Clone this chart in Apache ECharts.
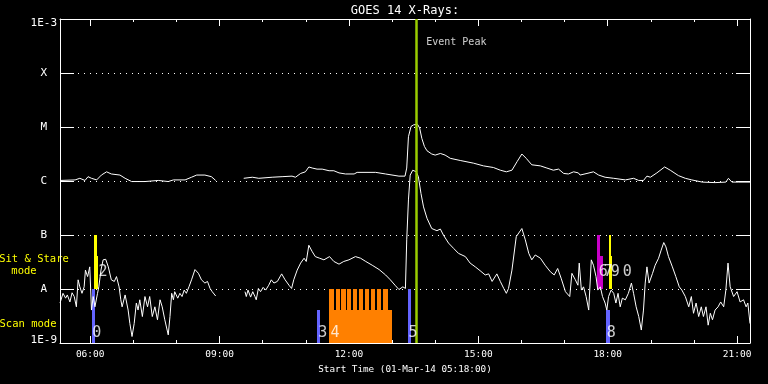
<!DOCTYPE html>
<html><head><meta charset="utf-8">
<script src="https://cdn.jsdelivr.net/npm/echarts@6/dist/echarts.min.js"></script>
<style>html,body{margin:0;padding:0;background:#000;}#c{width:768px;height:384px;}</style>
</head><body><div id="c"></div>
<script>
// Time in decimal hours (UT), flux as log10(W/m^2)
const longChannel = [[5.30,-5.99],[5.33,-5.99],[5.65,-5.98],[5.76,-5.95],[5.88,-5.99],[5.95,-5.92],[6.03,-5.95],[6.15,-5.98],[6.26,-5.89],[6.38,-5.83],[6.49,-5.87],[6.69,-5.89],[6.81,-5.95],[6.96,-6.01],[7.27,-6.01],[7.58,-5.99],[7.81,-6.01],[7.93,-5.98],[8.20,-5.98],[8.35,-5.93],[8.47,-5.89],[8.66,-5.89],[8.81,-5.92],[8.91,-5.99],[9.2,null],
[9.56,-5.95],[9.76,-5.93],[9.91,-5.95],[10.22,-5.93],[10.45,-5.92],[10.68,-5.91],[10.76,-5.93],[10.88,-5.86],[10.99,-5.83],[11.07,-5.74],[11.15,-5.76],[11.26,-5.78],[11.38,-5.78],[11.54,-5.81],[11.65,-5.81],[11.77,-5.85],[11.92,-5.87],[12.12,-5.87],[12.19,-5.84],[12.62,-5.84],[12.85,-5.87],[13.16,-5.91],[13.30,-5.91],[13.33,-5.93],[13.34,-5.76],[13.38,-5.18],[13.44,-4.99],[13.50,-4.96],[13.59,-4.95],[13.64,-5.02],[13.69,-5.21],[13.75,-5.36],[13.81,-5.44],[13.92,-5.50],[14.00,-5.52],[14.12,-5.49],[14.23,-5.52],[14.35,-5.58],[14.58,-5.62],[14.89,-5.67],[15.12,-5.72],[15.35,-5.75],[15.51,-5.80],[15.65,-5.83],[15.78,-5.80],[15.90,-5.64],[16.01,-5.50],[16.11,-5.58],[16.24,-5.70],[16.44,-5.72],[16.59,-5.76],[16.74,-5.80],[16.86,-5.78],[16.98,-5.86],[17.09,-5.87],[17.21,-5.83],[17.32,-5.85],[17.36,-5.89],[17.52,-5.86],[17.67,-5.83],[17.79,-5.89],[17.94,-5.93],[18.14,-5.95],[18.41,-5.98],[18.60,-5.95],[18.72,-5.99],[18.83,-5.99],[18.91,-5.91],[18.99,-5.93],[19.14,-5.85],[19.32,-5.74],[19.45,-5.80],[19.64,-5.90],[19.80,-5.95],[19.95,-5.98],[20.19,-6.02],[20.49,-6.03],[20.74,-6.02],[20.80,-5.95],[20.88,-6.02],[21.04,-6.02],[21.30,-6.02]];

const shortChannel = [[5.30,-8.26],[5.32,-8.26],[5.37,-8.08],[5.43,-8.17],[5.47,-8.11],[5.53,-8.24],[5.58,-8.07],[5.63,-8.14],[5.68,-8.33],[5.72,-7.83],[5.76,-7.96],[5.81,-8.08],[5.86,-7.96],[5.89,-7.65],[5.94,-7.77],[5.99,-7.59],[6.03,-8.39],[6.07,-8.14],[6.11,-8.33],[6.17,-8.08],[6.20,-7.96],[6.25,-7.65],[6.30,-7.46],[6.36,-7.45],[6.42,-7.59],[6.49,-7.83],[6.56,-7.86],[6.61,-7.77],[6.67,-7.96],[6.71,-8.20],[6.74,-8.33],[6.81,-8.11],[6.88,-8.39],[6.92,-8.64],[6.97,-8.88],[7.02,-8.64],[7.07,-8.26],[7.11,-8.39],[7.15,-8.20],[7.21,-8.51],[7.27,-8.14],[7.33,-8.33],[7.38,-8.14],[7.44,-8.51],[7.50,-8.33],[7.56,-8.57],[7.62,-8.20],[7.67,-8.33],[7.73,-8.57],[7.81,-8.85],[7.85,-8.51],[7.89,-8.08],[7.93,-8.20],[7.96,-8.05],[8.03,-8.17],[8.08,-8.08],[8.13,-8.14],[8.18,-8.02],[8.23,-8.08],[8.29,-7.96],[8.35,-7.83],[8.43,-7.64],[8.51,-7.71],[8.58,-7.83],[8.66,-7.89],[8.72,-7.86],[8.78,-7.99],[8.83,-8.05],[8.91,-8.13],[9.2,null],
[9.59,-8.05],[9.62,-8.14],[9.66,-8.02],[9.72,-8.15],[9.77,-8.05],[9.82,-8.14],[9.85,-8.20],[9.90,-7.99],[9.95,-8.05],[10.01,-7.97],[10.07,-8.02],[10.14,-7.93],[10.20,-7.83],[10.26,-7.89],[10.34,-7.86],[10.44,-7.72],[10.52,-7.83],[10.61,-7.93],[10.67,-7.99],[10.72,-7.83],[10.80,-7.65],[10.88,-7.52],[10.96,-7.43],[11.01,-7.49],[11.07,-7.19],[11.15,-7.31],[11.22,-7.40],[11.32,-7.43],[11.42,-7.46],[11.55,-7.40],[11.65,-7.49],[11.77,-7.54],[11.88,-7.49],[12.00,-7.46],[12.15,-7.40],[12.27,-7.43],[12.39,-7.49],[12.54,-7.56],[12.70,-7.64],[12.85,-7.74],[12.96,-7.83],[13.08,-7.94],[13.16,-8.01],[13.25,-7.96],[13.31,-7.99],[13.33,-7.96],[13.34,-7.09],[13.38,-6.35],[13.42,-5.89],[13.48,-5.80],[13.56,-5.83],[13.61,-5.92],[13.67,-6.23],[13.73,-6.48],[13.81,-6.69],[13.92,-6.88],[14.04,-6.92],[14.12,-6.89],[14.19,-7.00],[14.31,-7.15],[14.43,-7.25],[14.54,-7.34],[14.70,-7.40],[14.81,-7.52],[14.93,-7.59],[15.04,-7.66],[15.16,-7.74],[15.24,-7.72],[15.32,-7.86],[15.43,-7.72],[15.51,-7.86],[15.59,-7.99],[15.65,-8.08],[15.70,-7.99],[15.78,-7.65],[15.88,-7.03],[16.01,-6.88],[16.09,-7.09],[16.17,-7.34],[16.24,-7.46],[16.32,-7.37],[16.44,-7.43],[16.55,-7.56],[16.67,-7.68],[16.76,-7.74],[16.84,-7.62],[16.92,-7.80],[17.02,-8.05],[17.12,-8.14],[17.17,-7.71],[17.25,-7.83],[17.31,-7.93],[17.34,-7.52],[17.39,-8.02],[17.44,-7.96],[17.50,-8.14],[17.56,-8.39],[17.62,-7.46],[17.67,-7.56],[17.73,-7.77],[17.77,-8.02],[17.83,-7.96],[17.88,-8.14],[17.94,-8.26],[17.98,-8.39],[18.02,-8.14],[18.08,-8.02],[18.14,-8.08],[18.19,-8.26],[18.24,-8.08],[18.29,-8.33],[18.34,-8.17],[18.41,-8.20],[18.48,-8.08],[18.55,-7.89],[18.60,-8.08],[18.66,-8.33],[18.72,-8.51],[18.78,-8.76],[18.83,-8.39],[18.87,-7.89],[18.91,-7.59],[18.96,-7.89],[19.04,-7.71],[19.10,-7.56],[19.18,-7.43],[19.24,-7.28],[19.30,-7.14],[19.35,-7.22],[19.41,-7.40],[19.50,-7.59],[19.58,-7.77],[19.66,-7.96],[19.72,-8.02],[19.80,-8.14],[19.88,-8.33],[19.94,-8.14],[19.99,-8.45],[20.05,-8.26],[20.11,-8.51],[20.17,-8.33],[20.22,-8.51],[20.28,-8.33],[20.33,-8.67],[20.38,-8.45],[20.43,-8.57],[20.49,-8.39],[20.56,-8.33],[20.62,-8.24],[20.69,-8.33],[20.74,-8.02],[20.79,-7.52],[20.84,-7.96],[20.92,-8.14],[21.00,-8.05],[21.07,-8.24],[21.15,-8.20],[21.21,-8.33],[21.25,-8.26],[21.30,-8.64]];

// Observation blocks (time range in hours, level range in log10 flux)
const obsStart = [6.042, 6.098, 6.098, 11.264, 11.536, 11.536, 11.689, 11.821, 11.960, 12.092, 12.231, 12.371, 12.500, 12.640, 12.788, 13.375, 17.758, 17.758, 17.966, 18.036, 18.036];
const obsEnd   = [6.121, 6.151, 6.188, 11.327, 12.988, 11.652, 11.782, 11.921, 12.053, 12.192, 12.331, 12.463, 12.603, 12.749, 12.904, 13.444, 17.820, 17.890, 18.052, 18.082, 18.098];
const obsLow   = [-9, -8, -8, -9, -9, -8.39, -8.39, -8.39, -8.39, -8.39, -8.39, -8.39, -8.39, -8.39, -8.39, -9, -8, -8, -9, -8, -8];
const obsHigh  = [-8, -7, -7.38, -8.39, -8.39, -8, -8, -8, -8, -8, -8, -8, -8, -8, -8, -8, -7, -7.39, -8.39, -7, -7.39];
const obsMode  = ['scan','stare','stare','scan','raster','raster','raster','raster','raster','raster','raster','raster','raster','raster','raster','scan','stareB','stareB','scan','stare','stare'];

const obsLabels    = ['0','2','3','4','5','6','7','9','0','8'];
const obsLabelTime = [6.05, 6.19, 11.29, 11.57, 13.38, 17.79, 17.91, 18.07, 18.35, 17.98];
const obsLabelMode = ['scan','stare','scan','scan','scan','stare','stare','stare','stare','scan'];

const peakTime = 13.56;
const majorHours = [6, 9, 12, 15, 18, 21];
const minorHours = [6,7,8,9,10,11,12,13,14,15,16,17,18,19,20,21];
const levelLetters = {'-8':'A','-7':'B','-6':'C','-5':'M','-4':'X'};

const modeColor = {scan:'#6464ff', stare:'#ffff00', stareB:'#c800c8', raster:'#ff8000'};
const labelLevel = {scan:-8.81, stare:-7.69};
const MONO = 'DejaVu Sans Mono';

const chart = echarts.init(document.getElementById('c'), null, {renderer:'canvas'});
const fmtHour = v => String(v).padStart(2,'0') + ':00';

function xAx(pos, ticks, len, showLine, labels) {
  const a = {
    type:'value', min:5.3, max:21.3, position:pos, gridIndex:0,
    axisLine:{show:showLine, onZero:false, lineStyle:{color:'#fff', width:1}},
    axisTick:{show:true, inside:true, length:len, customValues:ticks, lineStyle:{color:'#fff', width:1}},
    axisLabel:{show:false},
    splitLine:{show:false}
  };
  if (labels) {
    a.axisLabel = {show:true, customValues:majorHours, formatter:fmtHour, color:'#fff', fontFamily:MONO, fontSize:9.5, margin:7};
    a.name = 'Start Time (01-Mar-14 05:18:00)';
    a.nameLocation = 'middle';
    a.nameGap = 20;
    a.nameTextStyle = {color:'#fff', fontFamily:MONO, fontSize:9.3};
  }
  return a;
}

function yAx(pos, labels) {
  return {
    type:'value', min:-9, max:-3, interval:1, position:pos, gridIndex:0,
    axisLine:{show:true, onZero:false, lineStyle:{color:'#fff', width:1}},
    axisTick:{show:true, inside:true, length:14, lineStyle:{color:'#fff', width:1}},
    splitLine:{show:labels, lineStyle:{color:'#fff', width:1, type:[1,5]}},
    axisLabel: labels ? {
      show:true, color:'#fff', fontFamily:MONO, fontSize:11, margin:3,
      formatter: v => v === -3 ? '{top|1E-3}' : (v === -9 ? '{bot|1E-9}' : (levelLetters[String(v)] ? '{let|' + levelLetters[String(v)] + '}' : '')),
      rich: {
        top:{padding:[8,0,0,0], color:'#fff', fontFamily:MONO, fontSize:11},
        bot:{padding:[0,0,6,0], color:'#fff', fontFamily:MONO, fontSize:11},
        let:{padding:[0,10,0,0], color:'#fff', fontFamily:MONO, fontSize:11}
      }
    } : {show:false}
  };
}

const obsData = obsStart.map((s, i) => [s, obsEnd[i], obsLow[i], obsHigh[i], i]);

const labelData = obsLabels.map((t, i) => ({
  value:[obsLabelTime[i], labelLevel[obsLabelMode[i]]], name:t
}));
labelData.push({value:[peakTime, -3.44], name:'Event Peak',
  label:{fontSize:10, offset:[10,0]}});

const option = {
  backgroundColor:'#000',
  animation:false,
  grid:{left:60, right:18, top:19, bottom:41, containLabel:false},
  xAxis:[
    xAx('bottom', majorHours, 7, true, true),
    xAx('bottom', minorHours, 3, false, false),
    xAx('top', majorHours, 7, true, false),
    xAx('top', minorHours, 3, false, false)
  ],
  yAxis:[ yAx('left', true), yAx('right', false) ],
  graphic:[
    {type:'text', x:405, y:11, style:{text:'GOES 14 X-Rays:', fill:'#fff', font:'12px "DejaVu Sans Mono"', textAlign:'center', textVerticalAlign:'middle'}},
    {type:'text', x:34, y:259, style:{text:'Sit & Stare', fill:'#ffff00', font:'10.5px "DejaVu Sans Mono"', textAlign:'center', textVerticalAlign:'middle'}},
    {type:'text', x:24, y:271, style:{text:'mode', fill:'#ffff00', font:'10.5px "DejaVu Sans Mono"', textAlign:'center', textVerticalAlign:'middle'}},
    {type:'text', x:28, y:324, style:{text:'Scan mode', fill:'#ffff00', font:'10.5px "DejaVu Sans Mono"', textAlign:'center', textVerticalAlign:'middle'}}
  ],
  series:[
    {
      type:'custom', xAxisIndex:0, yAxisIndex:0, z:1, silent:true, clip:true,
      data:obsData, encode:{x:[0,1], y:[2,3]},
      renderItem:(params, api) => {
        const p0 = api.coord([api.value(0), api.value(3)]);
        const p1 = api.coord([api.value(1), api.value(2)]);
        const i = api.value(4);
        const x0 = Math.round(p0[0]), x1 = Math.max(x0 + 1, Math.round(p1[0]));
        const y0 = Math.round(p0[1]), y1 = Math.round(p1[1]);
        return {type:'rect', shape:{x:x0, y:y0, width:x1 - x0, height:y1 - y0},
                style:{fill:modeColor[obsMode[i]]}};
      }
    },
    {
      type:'line', name:'long', xAxisIndex:0, yAxisIndex:0, z:3, data:longChannel,
      showSymbol:false, symbol:'none', connectNulls:false, silent:true,
      lineStyle:{color:'#fff', width:1}
    },
    {
      type:'line', name:'short', xAxisIndex:0, yAxisIndex:0, z:3, data:shortChannel,
      showSymbol:false, symbol:'none', connectNulls:false, silent:true,
      lineStyle:{color:'#fff', width:1},
      markLine:{symbol:'none', silent:true, animation:false, z:5,
        lineStyle:{color:'#9acd00', width:2.5, type:'solid', opacity:1}, label:{show:false},
        emphasis:{disabled:true},
        data:[{xAxis:peakTime}]}
    },
    {
      type:'scatter', xAxisIndex:0, yAxisIndex:0, z:6, symbolSize:0, silent:true,
      data:labelData,
      label:{show:true, formatter:p => p.name, position:[0,0], align:'left', verticalAlign:'middle',
             color:'#fff', fontFamily:MONO, fontSize:15}
    }
  ]
};
chart.setOption(option);
</script></body></html>
